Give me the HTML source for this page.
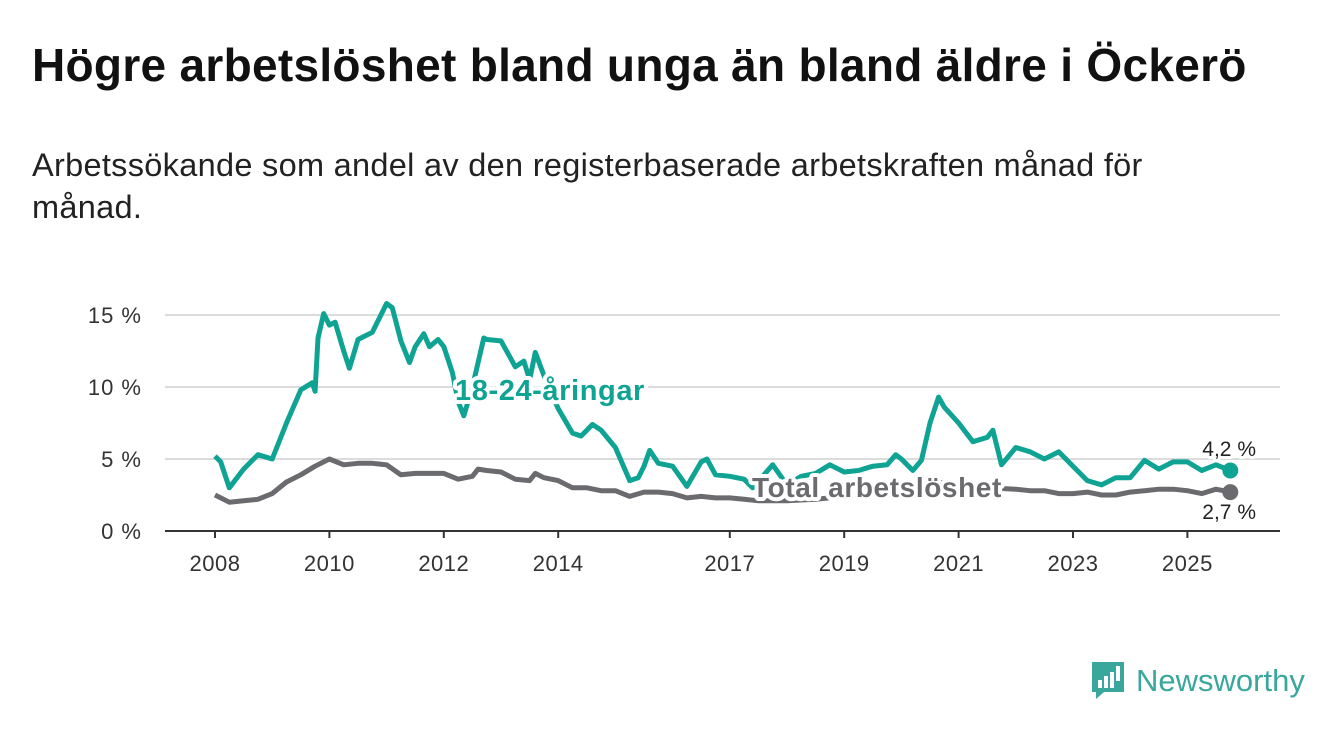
<!DOCTYPE html>
<html><head><meta charset="utf-8"><style>
body{margin:0;width:1340px;height:734px;background:#fff;font-family:"Liberation Sans",sans-serif;overflow:hidden;position:relative}
h1{position:absolute;left:32px;top:38px;margin:0;font-size:46px;font-weight:bold;color:#111;letter-spacing:0.3px;white-space:nowrap}
.sub{position:absolute;left:32px;top:144px;width:1210px;font-size:32.5px;line-height:42px;color:#222;letter-spacing:0.3px}
</style></head><body>
<h1>Högre arbetslöshet bland unga än bland äldre i Öckerö</h1>
<div class="sub">Arbetssökande som andel av den registerbaserade arbetskraften månad för månad.</div>
<svg id="chart" width="1340" height="734" style="position:absolute;left:0;top:0"></svg>
<div style="position:absolute;left:1090px;top:660px;display:flex;align-items:center">
<svg width="36" height="42"><path d="M2 2h32v30H14l-8 7v-7H2z" fill="#3aa79c"/><rect x="8" y="20" width="4" height="8" fill="#fff"/><rect x="14" y="16" width="4" height="12" fill="#fff"/><rect x="20" y="12" width="4" height="16" fill="#fff"/><rect x="26" y="6" width="4" height="15" fill="#fff"/></svg>
<span style="font-size:31px;color:#3aa79c;margin-left:10px">Newsworthy</span></div>
<script>
const yTicks=[0,5,10,15];
const xTicks=[2008,2010,2012,2014,2017,2019,2021,2023,2025];
const youthT=[2008,2008.1,2008.25,2008.5,2008.75,2009,2009.25,2009.5,2009.7,2009.75,2009.8,2009.9,2010,2010.1,2010.25,2010.35,2010.5,2010.6,2010.75,2010.9,2011,2011.1,2011.25,2011.4,2011.5,2011.65,2011.75,2011.9,2012,2012.15,2012.25,2012.35,2012.5,2012.7,2012.75,2013,2013.25,2013.4,2013.5,2013.6,2013.75,2014,2014.25,2014.4,2014.5,2014.6,2014.75,2015,2015.25,2015.4,2015.5,2015.6,2015.75,2016,2016.25,2016.5,2016.6,2016.75,2017,2017.25,2017.4,2017.75,2018,2018.25,2018.5,2018.75,2019,2019.25,2019.5,2019.75,2019.9,2020,2020.2,2020.35,2020.5,2020.65,2020.75,2021,2021.25,2021.5,2021.6,2021.75,2022,2022.25,2022.5,2022.75,2023,2023.25,2023.5,2023.75,2024,2024.25,2024.5,2024.75,2025,2025.25,2025.5,2025.75];
const youthV=[5.2,4.8,3.0,4.3,5.3,5.0,7.5,9.8,10.3,9.7,13.4,15.1,14.3,14.5,12.5,11.3,13.3,13.5,13.8,15.0,15.8,15.5,13.2,11.7,12.8,13.7,12.8,13.3,12.8,11.0,9.0,8.0,10.0,13.4,13.3,13.2,11.4,11.8,10.5,12.4,10.8,8.5,6.8,6.6,7.0,7.4,7.0,5.8,3.5,3.7,4.5,5.6,4.7,4.5,3.1,4.8,5.0,3.9,3.8,3.6,3.0,4.6,3.2,3.8,4.0,4.6,4.1,4.2,4.5,4.6,5.3,5.0,4.2,4.9,7.5,9.3,8.6,7.5,6.2,6.5,7.0,4.6,5.8,5.5,5.0,5.5,4.5,3.5,3.2,3.7,3.7,4.9,4.3,4.8,4.8,4.2,4.6,4.2];
const totT=[2008,2008.25,2008.5,2008.75,2009,2009.25,2009.5,2009.75,2010,2010.25,2010.5,2010.75,2011,2011.25,2011.5,2011.75,2012,2012.25,2012.5,2012.6,2012.75,2013,2013.25,2013.5,2013.6,2013.75,2014,2014.25,2014.5,2014.75,2015,2015.25,2015.5,2015.75,2016,2016.25,2016.5,2016.75,2017,2017.25,2017.5,2018,2018.5,2019,2019.5,2020,2020.5,2021,2021.5,2022,2022.25,2022.5,2022.75,2023,2023.25,2023.5,2023.75,2024,2024.25,2024.5,2024.75,2025,2025.25,2025.5,2025.75];
const totV=[2.5,2.0,2.1,2.2,2.6,3.4,3.9,4.5,5.0,4.6,4.7,4.7,4.6,3.9,4.0,4.0,4.0,3.6,3.8,4.3,4.2,4.1,3.6,3.5,4.0,3.7,3.5,3.0,3.0,2.8,2.8,2.4,2.7,2.7,2.6,2.3,2.4,2.3,2.3,2.2,2.1,2.1,2.2,2.4,2.6,2.8,3.4,3.3,3.0,2.9,2.8,2.8,2.6,2.6,2.7,2.5,2.5,2.7,2.8,2.9,2.9,2.8,2.6,2.9,2.7];
const svg=document.getElementById('chart');const NS='http://www.w3.org/2000/svg';
const X=t=>215+(t-2008)*57.2, Y=v=>531-v*14.4;
function mk(tag,attrs,parent){const e=document.createElementNS(NS,tag);for(const k in attrs)e.setAttribute(k,attrs[k]);(parent||svg).appendChild(e);return e;}
yTicks.forEach(v=>{
 const l=mk('line',{x1:165,x2:1280,y1:Y(v),y2:Y(v),stroke:v?'#dcdcdc':'#333','stroke-width':2});
 
 
 const t=mk('text',{x:142,y:Y(v)+8,'text-anchor':'end','font-size':22,fill:'#333','font-family':'Liberation Sans','letter-spacing':1});t.textContent=v+' %';
 
 
});
xTicks.forEach(y=>{
 const l=mk('line',{x1:X(y),x2:X(y),y1:531,y2:538,stroke:'#333','stroke-width':2});
 
 
 const t=mk('text',{x:X(y),y:571,'text-anchor':'middle','font-size':22,fill:'#333','font-family':'Liberation Sans','letter-spacing':0.5});t.textContent=y;
 
 
});
function line(ts,vs,col,name){
 const d=ts.map((t,i)=>(i?'L':'M')+X(t).toFixed(1)+' '+Y(vs[i]).toFixed(1)).join('');
 const p=mk('path',{d:d,fill:'none',stroke:col,'stroke-width':5,'stroke-linejoin':'round'});
 
 
 const c=mk('circle',{cx:X(ts[ts.length-1]),cy:Y(vs[vs.length-1]),r:8,fill:col});
 
 
}
line(totT,totV,'#6b6a6e','total-line');
line(youthT,youthV,'#0fa394','youth-line');
function lab(x,y,s,col,size,w,name,anchor,ls){
 const t=mk('text',{x:x,y:y,'font-size':size,'font-weight':w,fill:col,stroke:'#fff','stroke-width':w=='bold'?8:6,'paint-order':'stroke','stroke-linejoin':'round','font-family':'Liberation Sans','text-anchor':anchor||'start','letter-spacing':ls||0});t.textContent=s;
 
 
}
lab(455,400,'18-24-åringar','#0fa394',29,'bold','youth-series-label','start',0.6);
lab(752,497,'Total arbetslöshet','#6b6a6e',28,'bold','total-series-label','start',0.6);
lab(1256,456,youthV[youthV.length-1].toFixed(1).replace('.',',')+' %','#222',21,'normal','youth-end-value','end');
lab(1256,519,totV[totV.length-1].toFixed(1).replace('.',',')+' %','#222',21,'normal','total-end-value','end');
</script>
</body></html>
